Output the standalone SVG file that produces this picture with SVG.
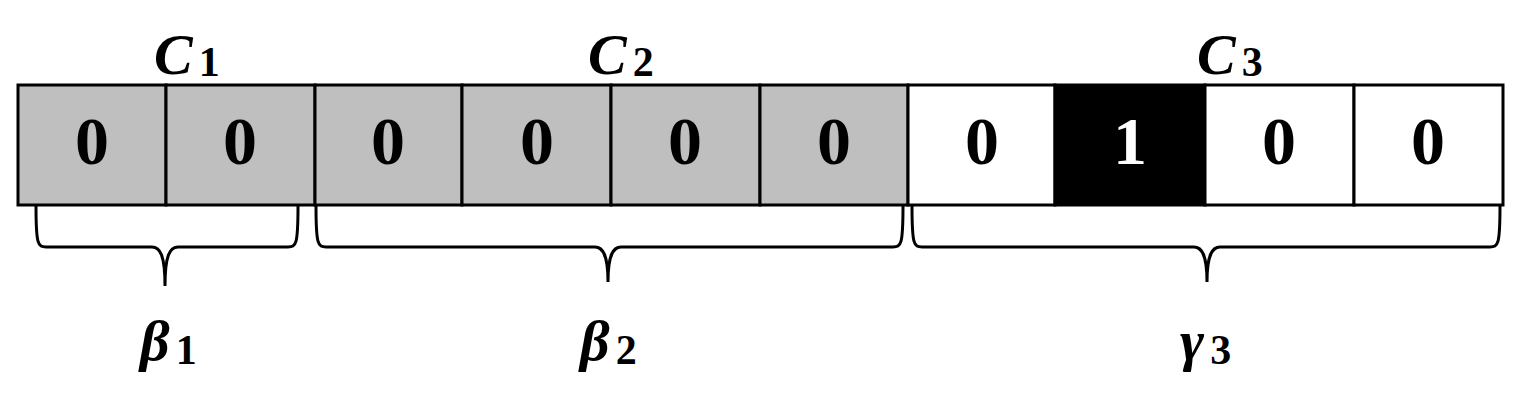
<svg xmlns="http://www.w3.org/2000/svg" width="1519" height="402" viewBox="0 0 1519 402">
<style>
.c{stroke:#000;stroke-width:3}
.g{fill:#bfbfbf}.w{fill:#fff}.b{fill:#000}
.n{font-family:"Liberation Serif",serif;font-weight:bold;font-size:68px;text-anchor:middle}
.l{font-family:"Liberation Serif",serif;font-weight:bold;font-style:italic;font-size:58px}
.s{font-family:"Liberation Serif",serif;font-weight:bold;font-size:42px;font-style:normal}
.br{fill:none;stroke:#000;stroke-width:3}
</style>
<rect width="1519" height="402" fill="#fff"/>
<g id="cells">
<g id="cell1"><rect class="c g" x="18" y="85" width="148" height="120"/><text class="n" x="92" y="164">0</text></g>
<g id="cell2"><rect class="c g" x="166" y="85" width="149" height="120"/><text class="n" x="240" y="164">0</text></g>
<g id="cell3"><rect class="c g" x="315" y="85" width="147" height="120"/><text class="n" x="388" y="164">0</text></g>
<g id="cell4"><rect class="c g" x="462" y="85" width="149" height="120"/><text class="n" x="537" y="164">0</text></g>
<g id="cell5"><rect class="c g" x="611" y="85" width="149" height="120"/><text class="n" x="685" y="164">0</text></g>
<g id="cell6"><rect class="c g" x="760" y="85" width="148" height="120"/><text class="n" x="834" y="164">0</text></g>
<g id="cell7"><rect class="c w" x="908" y="85" width="147" height="120"/><text class="n" x="982" y="164">0</text></g>
<g id="cell8"><rect class="c b" x="1055" y="85" width="150" height="120"/><text class="n" x="1130" y="164" fill="#fff">1</text></g>
<g id="cell9"><rect class="c w" x="1205" y="85" width="149" height="120"/><text class="n" x="1279" y="164">0</text></g>
<g id="cell10"><rect class="c w" x="1354" y="85" width="149" height="120"/><text class="n" x="1428" y="164">0</text></g>
</g>
<g id="braces">
<path class="br" d="M36,206 C36,245 38,247 46,247 L152,247 C160,247 165,255 165,286 C165,255 170,247 178,247 L288,247 C296,247 298,245 298,206"/>
<path class="br" d="M316,206 C316,245 318,247 326,247 L595,247 C603,247 608,255 608,282 C608,255 613,247 621,247 L893,247 C901,247 903,245 903,206"/>
<path class="br" d="M912,206 C912,245 914,247 922,247 L1194,247 C1202,247 1207,255 1207,282 C1207,255 1212,247 1220,247 L1490,247 C1498,247 1500,245 1500,206"/>
</g>
<g id="labels">
<text class="l" x="154" y="74">C<tspan class="s" dx="6" dy="2">1</tspan></text>
<text class="l" x="588" y="74">C<tspan class="s" dx="6" dy="2">2</tspan></text>
<text class="l" x="1197" y="74">C<tspan class="s" dx="6" dy="2">3</tspan></text>
<text class="l" x="140" y="360">β<tspan class="s" dx="6" dy="4">1</tspan></text>
<text class="l" x="580" y="360">β<tspan class="s" dx="6" dy="4">2</tspan></text>
<text class="l" x="1180" y="360">γ<tspan class="s" dx="6" dy="4">3</tspan></text>
</g>
</svg>
